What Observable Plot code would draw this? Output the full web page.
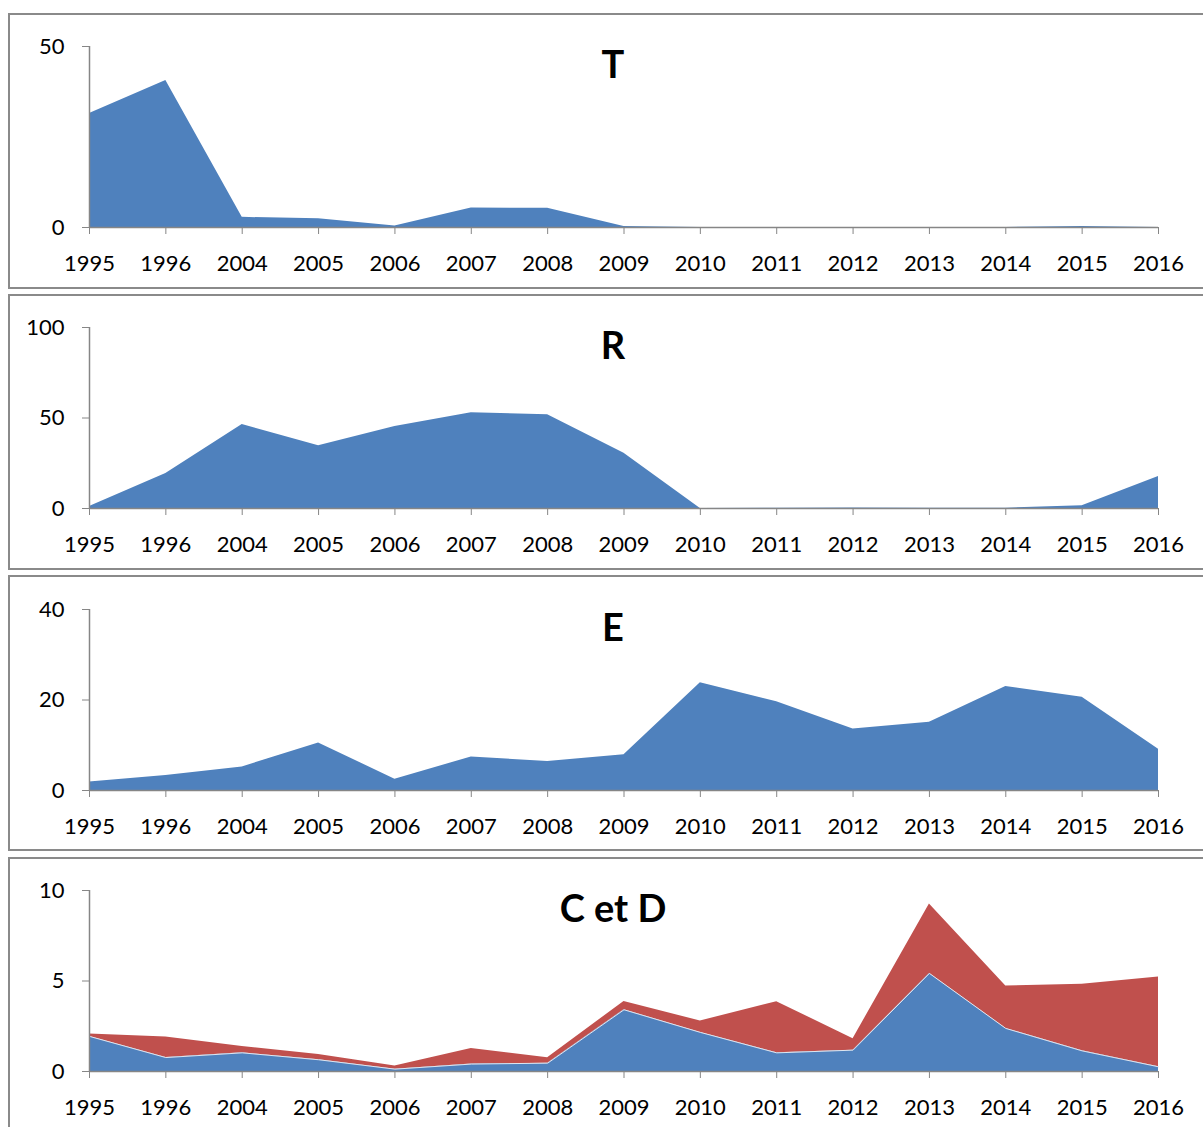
<!DOCTYPE html>
<html>
<head>
<meta charset="utf-8">
<script src="https://cdn.jsdelivr.net/npm/d3@7"></script>
<script src="https://cdn.jsdelivr.net/npm/@observablehq/plot@0.6"></script>
<style>
  html, body { margin: 0; padding: 0; background: #fff; }
  #wrap { position: relative; width: 1203px; height: 1127px; overflow: hidden; background: #fff; }
  .panel { position: absolute; left: 8px; width: 1230px; height: 276px; box-sizing: border-box; border: 2px solid #8a8a8a; background: #fff; }
  .chart { position: absolute; left: 0; }
</style>
</head>
<body>
<div id="wrap"></div>
<script>
// Categories (x axis)
const years = ["1995","1996","2004","2005","2006","2007","2008","2009","2010","2011","2012","2013","2014","2015","2016"];

// Panel titles
const titles = ["T", "R", "E", "C et D"];

// Series values
const seriesT = [31.5, 40.6, 2.8, 2.4, 0.4, 5.4, 5.3, 0.3, 0, 0, 0, 0, 0, 0.3, 0];
const seriesR = [1.1, 19.4, 46.4, 34.6, 45.3, 52.9, 51.8, 30.5, 0, 0.2, 0.3, 0.2, 0.2, 1.5, 17.7];
const seriesE = [1.9, 3.3, 5.2, 10.5, 2.5, 7.4, 6.4, 7.9, 23.8, 19.6, 13.6, 15.1, 23.0, 20.6, 9.1];
const seriesC = [1.94, 0.77, 1.03, 0.65, 0.13, 0.41, 0.46, 3.41, 2.16, 1.03, 1.18, 5.42, 2.38, 1.14, 0.26];
const seriesD = [0.13, 1.13, 0.35, 0.29, 0.18, 0.86, 0.30, 0.46, 0.63, 2.83, 0.63, 3.84, 2.34, 3.68, 4.96];

// Y tick labels per panel
const yTicksT = [0, 50];
const yTicksR = [0, 50, 100];
const yTicksE = [0, 20, 40];
const yTicksCD = [0, 5, 10];

const BLUE = "#4F81BD";
const RED = "#C0504D";
const GRAY = "#868686";

const panels = [
  {title: titles[0], series: [["T", seriesT]], ticks: yTicksT},
  {title: titles[1], series: [["R", seriesR]], ticks: yTicksR},
  {title: titles[2], series: [["E", seriesE]], ticks: yTicksE},
  {title: titles[3], series: [["C", seriesC], ["D", seriesD]], ticks: yTicksCD}
];

const panelTops = [13, 294, 575, 857];
const chartTops = [12, 293, 575, 856];

const wrap = document.getElementById("wrap");

panels.forEach((p, i) => {
  const box = document.createElement("div");
  box.className = "panel";
  box.style.top = panelTops[i] + "px";
  wrap.appendChild(box);

  const rows = [];
  p.series.forEach(([name, vals]) => {
    years.forEach((yr, j) => rows.push({year: yr, series: name, value: vals[j]}));
  });
  const yMax = p.ticks[p.ticks.length - 1];

  const chart = Plot.plot({
    width: 1203,
    height: 280,
    marginLeft: 89,
    marginRight: 45,
    marginTop: 34,
    marginBottom: 65,
    style: {fontFamily: "Lato, 'Open Sans', sans-serif", fontSize: "22px", background: "transparent", color: "black"},
    x: {type: "point", domain: years, padding: 0, round: false},
    y: {domain: [0, yMax]},
    color: {domain: ["T", "R", "E", "C", "D"], range: [BLUE, BLUE, BLUE, BLUE, RED]},
    marks: [
      Plot.areaY(rows, Plot.stackY({x: "year", y: "value", z: "series", fill: "series", order: null, curve: "linear"})),
      p.series.length > 1
        ? Plot.lineY(rows.filter(d => d.series === "C"), {x: "year", y: "value", stroke: "#dfe6f0", strokeWidth: 1})
        : null,
      Plot.ruleY([0], {stroke: GRAY, strokeWidth: 1.5}),
      Plot.ruleX([years[0]], {y1: 0, y2: yMax, stroke: GRAY, strokeWidth: 1.5}),
      Plot.axisX({tickSize: 7, tickPadding: 21, stroke: GRAY, fill: "black", fontSize: 22, label: null}),
      Plot.axisY({ticks: p.ticks, tickSize: 7, tickPadding: 18, stroke: GRAY, fill: "black", fontSize: 22, label: null}),
      Plot.text([p.title], {frameAnchor: "top", lineAnchor: "bottom", dy: 31, dx: -11, fontSize: 38, fontWeight: "bold", fill: "black"})
    ]
  });
  chart.classList.add("chart");
  chart.style.top = chartTops[i] + "px";
  wrap.appendChild(chart);
});
</script>
</body>
</html>
